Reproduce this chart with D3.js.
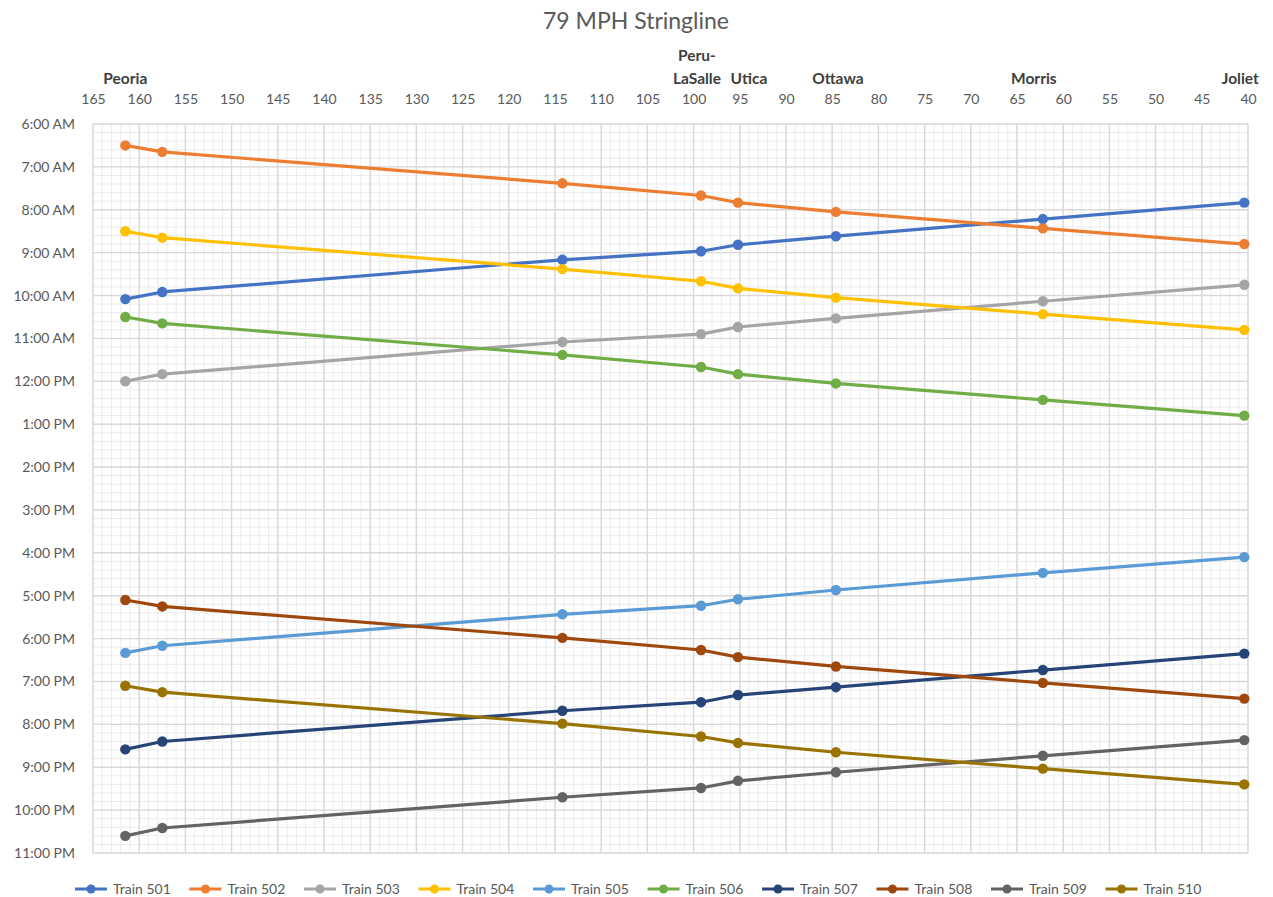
<!DOCTYPE html>
<html>
<head>
<meta charset="utf-8">
<script src="https://cdn.jsdelivr.net/npm/d3@7"></script>
<style>
  body { margin: 0; background: #fff; }
  text { font-family: Lato, "Open Sans", "Liberation Sans", sans-serif; }
</style>
</head>
<body>
<svg id="chart" width="1273" height="897"></svg>
<script>
// Stop mileposts, Peoria end first
const mileposts = [161.5, 157.5, 114.2, 99.2, 95.2, 84.6, 62.2, 40.4];

// Named stations shown above the mileage axis
const stationNames = ["Peoria", "Peru-LaSalle", "Utica", "Ottawa", "Morris", "Joliet"];
const stationMiles = [161.5, 99.2, 95.2, 84.6, 62.2, 40.4];

// Axis ticks
const mileTicks = d3.range(165, 39, -5);
const hourTicks = d3.range(6, 24);

// Passing times at each milepost (24-hour clock), Peoria end first
const trainNames = ["Train 501", "Train 502", "Train 503", "Train 504", "Train 505",
                    "Train 506", "Train 507", "Train 508", "Train 509", "Train 510"];
const train501 = ["10:05", "9:55", "9:10", "8:58", "8:49", "8:37", "8:13", "7:50"];
const train502 = ["6:30", "6:39", "7:23", "7:40", "7:50", "8:03", "8:26", "8:48"];
const train503 = ["12:00", "11:50", "11:05", "10:54", "10:44", "10:32", "10:08", "9:45"];
const train504 = ["8:30", "8:39", "9:23", "9:40", "9:50", "10:03", "10:26", "10:48"];
const train505 = ["18:20", "18:10", "17:26", "17:14", "17:05", "16:52", "16:28", "16:06"];
const train506 = ["10:30", "10:39", "11:23", "11:40", "11:50", "12:03", "12:26", "12:48"];
const train507 = ["20:35", "20:24", "19:41", "19:29", "19:19", "19:08", "18:44", "18:21"];
const train508 = ["17:06", "17:15", "17:59", "18:16", "18:26", "18:39", "19:02", "19:24"];
const train509 = ["22:36", "22:25", "21:42", "21:29", "21:19", "21:07", "20:44", "20:22"];
const train510 = ["19:06", "19:15", "19:59", "20:17", "20:26", "20:39", "21:02", "21:24"];
const trainTimes = [train501, train502, train503, train504, train505,
                    train506, train507, train508, train509, train510];

const colors = ["#4472C4", "#ED7D31", "#A5A5A5", "#FFC000", "#5B9BD5",
                "#70AD47", "#264478", "#9E480E", "#636363", "#997300"];

// ---- layout ----
const plot = { left: 93, right: 1248, top: 124, bottom: 853 };
const svg = d3.select("#chart");

const x = d3.scaleLinear().domain([165, 40]).range([plot.left, plot.right]);
const y = d3.scaleLinear().domain([6, 23]).range([plot.top, plot.bottom]);

const toHours = s => { const [h, m] = s.split(":").map(Number); return h + m / 60; };
const fmtHour = h => {
  const hh = h % 12 === 0 ? 12 : h % 12;
  return hh + ":00 " + (h < 12 ? "AM" : "PM");
};

// Title
svg.append("text")
  .attr("x", 636).attr("y", 29)
  .attr("text-anchor", "middle")
  .attr("font-size", 23)
  .attr("fill", "#595959")
  .text("79 MPH Stringline");

// Minor grid: every mile and every 12 minutes
const grid = svg.append("g");
grid.selectAll("line.minx")
  .data(d3.range(165, 39, -1))
  .join("line")
  .attr("x1", d => x(d)).attr("x2", d => x(d))
  .attr("y1", plot.top).attr("y2", plot.bottom)
  .attr("stroke", "#ececec").attr("stroke-width", 1);
grid.selectAll("line.miny")
  .data(d3.range(6, 23.001, 0.2))
  .join("line")
  .attr("y1", d => y(d)).attr("y2", d => y(d))
  .attr("x1", plot.left).attr("x2", plot.right)
  .attr("stroke", "#ececec").attr("stroke-width", 1);

// Major grid: every 5 miles and every hour
grid.selectAll("line.majx")
  .data(mileTicks)
  .join("line")
  .attr("x1", d => x(d)).attr("x2", d => x(d))
  .attr("y1", plot.top).attr("y2", plot.bottom)
  .attr("stroke", "#d9d9d9").attr("stroke-width", 1.4);
grid.selectAll("line.majy")
  .data(hourTicks)
  .join("line")
  .attr("y1", d => y(d)).attr("y2", d => y(d))
  .attr("x1", plot.left).attr("x2", plot.right)
  .attr("stroke", "#d9d9d9").attr("stroke-width", 1.4);

// Mileage axis along the top
const xAxis = svg.append("g")
  .attr("transform", `translate(0,${plot.top - 17})`)
  .call(d3.axisTop(x).tickValues(mileTicks).tickSize(0).tickFormat(d3.format("d")));
xAxis.select(".domain").remove();
xAxis.selectAll("text")
  .attr("font-size", 14).attr("fill", "#595959")
  .attr("font-family", "Lato, 'Open Sans', sans-serif");

// Time axis down the left
const yAxis = svg.append("g")
  .attr("transform", `translate(${plot.left - 15},0)`)
  .call(d3.axisLeft(y).tickValues(hourTicks).tickSize(0).tickFormat(fmtHour));
yAxis.select(".domain").remove();
yAxis.selectAll("text")
  .attr("font-size", 14).attr("fill", "#595959")
  .attr("font-family", "Lato, 'Open Sans', sans-serif");

// Station names above the mileage axis
const labelShift = [0, -4, 11, 2, -9, -4];
const stations = svg.append("g");
stationNames.forEach((name, i) => {
  const t = stations.append("text")
    .attr("x", x(stationMiles[i]) + labelShift[i])
    .attr("text-anchor", "middle")
    .attr("font-size", 15.5)
    .attr("font-weight", "bold")
    .attr("fill", "#404040");
  const parts = name.includes("-") ? [name.split("-")[0] + "-", name.split("-")[1]] : [name];
  parts.forEach((p, j) => {
    t.append("tspan")
      .attr("x", x(stationMiles[i]) + labelShift[i])
      .attr("y", 84 - (parts.length - 1 - j) * 23)
      .text(p);
  });
});

// Train strings
const line = d3.line().x(d => x(d.mile)).y(d => y(d.hour));
const series = trainNames.map((name, i) => ({
  name,
  color: colors[i],
  points: trainTimes[i].map((t, k) => ({ mile: mileposts[k], hour: toHours(t) }))
}));

const lines = svg.append("g");
series.forEach(s => {
  lines.append("path")
    .attr("d", line(s.points))
    .attr("fill", "none")
    .attr("stroke", s.color)
    .attr("stroke-width", 3.2)
    .attr("stroke-linejoin", "round");
  lines.selectAll(null)
    .data(s.points)
    .join("circle")
    .attr("cx", d => x(d.mile))
    .attr("cy", d => y(d.hour))
    .attr("r", 5.2)
    .attr("fill", s.color);
});

// Legend
const legend = svg.append("g").attr("transform", "translate(0,889)");
const legendStart = 113, legendStep = 114.5;
series.forEach((s, i) => {
  const tx = legendStart + i * legendStep;
  const g = legend.append("g");
  g.append("line")
    .attr("x1", tx - 38).attr("x2", tx - 6)
    .attr("y1", 0).attr("y2", 0)
    .attr("stroke", s.color).attr("stroke-width", 3);
  g.append("circle")
    .attr("cx", tx - 22).attr("cy", 0).attr("r", 4.5)
    .attr("fill", s.color);
  g.append("text")
    .attr("x", tx).attr("y", 5)
    .attr("font-size", 14)
    .attr("fill", "#595959")
    .text(s.name);
});
</script>
</body>
</html>
